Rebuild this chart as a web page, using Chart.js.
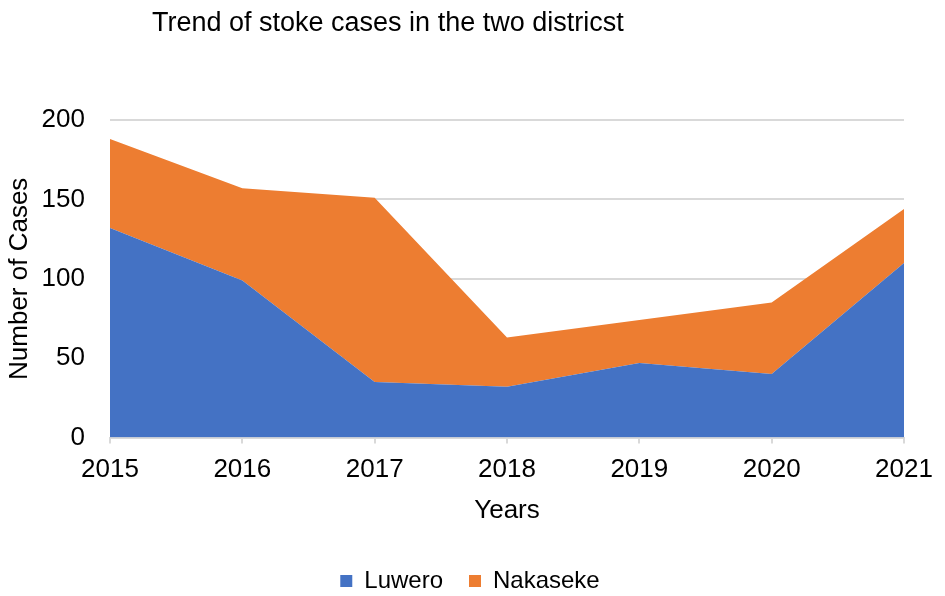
<!DOCTYPE html>
<html>
<head>
<meta charset="utf-8">
<script src="https://cdn.jsdelivr.net/npm/chart.js@4"></script>
<style>
  html, body { margin: 0; padding: 0; background: #fff; }
  .wrap { position: relative; width: 945px; height: 596px; }
  .title {
    position: absolute; left: 152px; top: 6px;
    font-family: "Liberation Sans", Arial, sans-serif;
    font-size: 27px; line-height: 32px; color: #000;
  }
</style>
</head>
<body>
<div class="wrap">
  <canvas id="chart" width="945" height="596"></canvas>
  <div class="title">Trend of stoke cases in the two districst</div>
</div>
<script>
let years = ["2015", "2016", "2017", "2018", "2019", "2020", "2021"];
let luwero = [132, 99, 35, 32, 47, 40, 110];
let nakaseke = [56, 58, 116, 31, 27, 45, 34];
let yTicks = [0, 50, 100, 150, 200];

let font = "'Liberation Sans', Arial, sans-serif";
Chart.defaults.font.family = font;
Chart.defaults.color = "#000";

// nudge the legend to where it sits in the original
let legendShift = {
  id: "legendShift",
  afterLayout: function (chart) {
    let lg = chart.legend;
    lg.left += 16; lg.right += 16;
    lg.top += 7; lg.bottom += 7;
  }
};

let ctx = document.getElementById("chart").getContext("2d");
let chart = new Chart(ctx, {
  type: "line",
  data: {
    labels: years,
    datasets: [
      {
        label: "Luwero",
        data: luwero,
        backgroundColor: "#4472C4",
        borderColor: "#4472C4",
        borderWidth: 0,
        pointRadius: 0,
        fill: "origin",
        tension: 0
      },
      {
        label: "Nakaseke",
        data: nakaseke,
        backgroundColor: "#ED7D31",
        borderColor: "#ED7D31",
        borderWidth: 0,
        pointRadius: 0,
        fill: "-1",
        tension: 0
      }
    ]
  },
  plugins: [legendShift],
  options: {
    responsive: false,
    animation: false,
    layout: { padding: { left: 4, right: 41, top: 120, bottom: 0 } },
    plugins: {
      legend: {
        position: "bottom",
        labels: {
          boxWidth: 12, boxHeight: 12, padding: 26,
          font: { size: 24 }, color: "#000"
        }
      },
      tooltip: { enabled: false }
    },
    scales: {
      x: {
        offset: false,
        grid: { display: true, drawOnChartArea: false, drawTicks: true, tickLength: 6, color: "#d9d9d9", lineWidth: 2 },
        border: { display: true, color: "#d9d9d9", width: 2 },
        ticks: { font: { size: 26 }, color: "#000", maxRotation: 0, padding: 11 },
        title: { display: true, text: "Years", font: { size: 26 }, color: "#000", padding: { top: -2, bottom: 10 } }
      },
      y: {
        stacked: true,
        min: 0, max: 200,
        afterBuildTicks: function (axis) {
          axis.ticks = yTicks.map(function (v) { return { value: v }; });
        },
        afterFit: function (axis) {
          axis.width = 106;
        },
        grid: { color: "#d9d9d9", lineWidth: 2, drawTicks: false },
        border: { display: false },
        ticks: { font: { size: 26 }, color: "#000", padding: 25 },
        title: { display: true, text: "Number of Cases", font: { size: 26 }, color: "#000", padding: { top: 0, bottom: 6 } }
      }
    }
  }
});
</script>
</body>
</html>
